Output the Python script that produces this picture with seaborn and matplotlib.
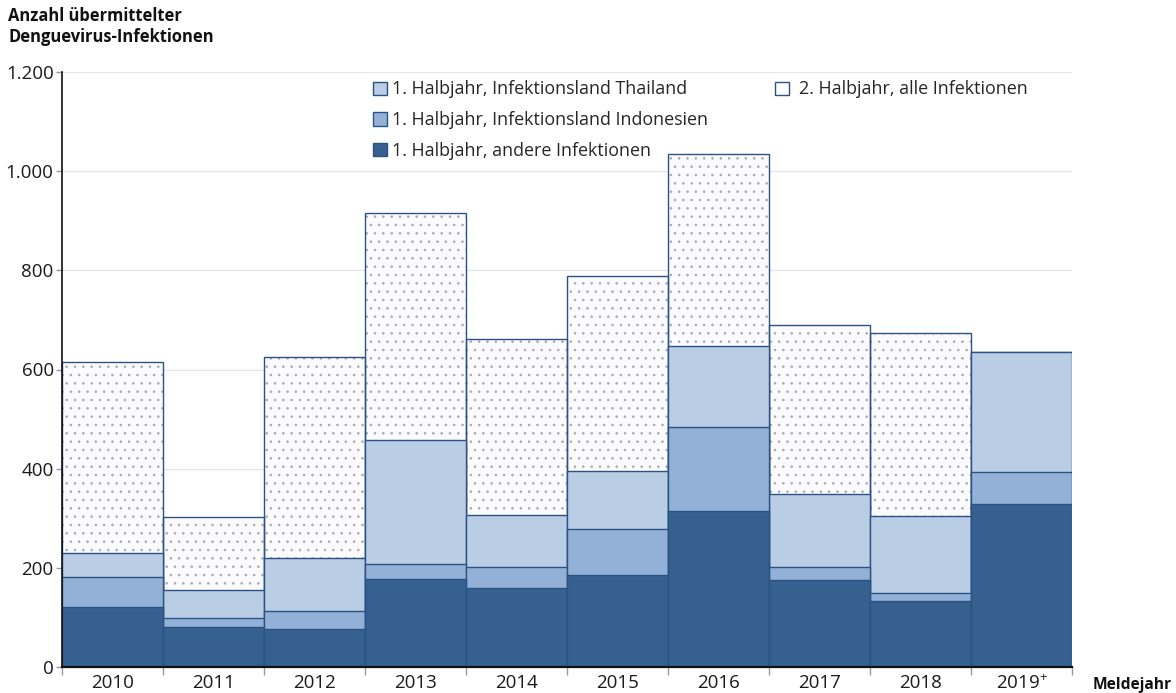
import matplotlib
matplotlib.use("Agg")
import matplotlib.pyplot as plt
import seaborn as sns
import numpy as np
from matplotlib.patches import Patch
from matplotlib.ticker import FixedLocator

years = ["2010", "2011", "2012", "2013", "2014", "2015", "2016", "2017", "2018", "2019$^{+}$"]
andere = [121, 81, 77, 178, 159, 186, 315, 176, 133, 329]
indonesien = [60, 18, 36, 30, 43, 92, 169, 26, 16, 64]
thailand = [49, 56, 107, 250, 105, 117, 164, 147, 156, 242]
halbjahr2 = [385, 148, 405, 458, 355, 394, 387, 341, 369, 0]
yticks = [0, 200, 400, 600, 800, 1000, 1200]
ytick_labels = ["0", "200", "400", "600", "800", "1.000", "1.200"]

c_dark = "#35608f"
c_mid = "#93b1d6"
c_light = "#b9cde5"
c_edge = "#2a5283"

sns.set_style("white")
plt.rcParams["font.family"] = ["Open Sans", "DejaVu Sans"]
plt.rcParams["mathtext.fontset"] = "custom"
plt.rcParams["mathtext.rm"] = "Open Sans"
plt.rcParams["mathtext.default"] = "regular"
plt.rcParams["hatch.linewidth"] = 0.6

fig = plt.figure(figsize=(11.76, 6.93), dpi=100)
ax = fig.add_axes([62 / 1176, 26 / 693, (1072 - 62) / 1176, (667 - 72) / 693])

a = np.array(andere)
i = np.array(indonesien)
t = np.array(thailand)
h = np.array(halbjahr2)
c1 = a
c2 = a + i
c3 = a + i + t
c4 = a + i + t + h

# second half (dotted), drawn first and then covered by the first-half stacks
sns.barplot(x=years, y=c4, color="#fbfbfd", saturation=1, width=1, edgecolor="#a8a8b6",
            linewidth=0, hatch="..", ax=ax, zorder=2)
sns.barplot(x=years, y=c4, color=c_edge, saturation=1, width=1, edgecolor=c_edge,
            linewidth=1.0, ax=ax, zorder=3, fill=False)
sns.barplot(x=years, y=c3, color=c_light, saturation=1, width=1, edgecolor=c_edge,
            linewidth=1.0, ax=ax, zorder=4)
sns.barplot(x=years, y=c2, color=c_mid, saturation=1, width=1, edgecolor=c_edge,
            linewidth=1.0, ax=ax, zorder=5)
sns.barplot(x=years, y=c1, color=c_dark, saturation=1, width=1, edgecolor=c_edge,
            linewidth=1.0, ax=ax, zorder=6)

for p in ax.patches[len(years):2 * len(years)]:
    p.set_edgecolor(c_edge)
    p.set_facecolor("none")

ax.set_xlim(-0.5, len(years) - 0.5)
ax.set_ylim(0, 1200)
ax.set_yticks(yticks)
ax.set_yticklabels(ytick_labels)
ax.yaxis.grid(True, color="#e6e6e6", linewidth=1)
ax.set_axisbelow(True)

ax.xaxis.set_major_locator(FixedLocator(np.arange(-0.5, len(years), 1.0)))
ax.xaxis.set_minor_locator(FixedLocator(np.arange(len(years))))
ax.set_xticklabels([""] * (len(years) + 1))
ax.set_xticklabels(years, minor=True)
ax.tick_params(axis="x", which="major", length=6, color="#999999", width=1, direction="out", bottom=True)
ax.tick_params(axis="x", which="minor", length=0, labelsize=13.5, pad=5, labelcolor="#1a1a1a")
ax.tick_params(axis="y", length=4, color="#999999", width=1, direction="out", left=True,
               labelsize=13.5, pad=2, labelcolor="#1a1a1a")
ax.set_xlabel("")
ax.set_ylabel("")

for s in ["top", "right"]:
    ax.spines[s].set_visible(False)
ax.spines["left"].set_color("#111111")
ax.spines["bottom"].set_color("#111111")
ax.spines["left"].set_linewidth(1.2)
ax.spines["bottom"].set_linewidth(1.6)
ax.spines["left"].set_zorder(10)
ax.spines["bottom"].set_zorder(10)

fig.text(8 / 1176, 1 - 7 / 693, "Anzahl übermittelter\nDenguevirus-Infektionen", ha="left", va="top",
         fontsize=11.9, fontweight="bold", linespacing=1.2, color="#111111")
fig.text(1172 / 1176, 1 - 685 / 693, "Meldejahr", ha="right", va="center",
         fontsize=11.2, fontweight="bold", color="#111111")

h_thai = Patch(facecolor=c_light, edgecolor=c_edge, linewidth=1)
h_indo = Patch(facecolor=c_mid, edgecolor=c_edge, linewidth=1)
h_and = Patch(facecolor=c_dark, edgecolor=c_edge, linewidth=1)
h_h2 = Patch(facecolor="#fdfdfe", edgecolor=c_edge, linewidth=1)

leg1 = ax.legend([h_thai, h_indo, h_and],
                 ["1. Halbjahr, Infektionsland Thailand",
                  "1. Halbjahr, Infektionsland Indonesien",
                  "1. Halbjahr, andere Infektionen"],
                 loc="upper left", bbox_to_anchor=((368 - 62) / 1010, 1 - 3 / 595),
                 frameon=False, fontsize=12.9, handlelength=0.75, handleheight=0.75,
                 handletextpad=0.3, labelspacing=0.72, borderaxespad=0, borderpad=0.3)
ax.add_artist(leg1)
ax.legend([h_h2], ["2. Halbjahr, alle Infektionen"],
          loc="upper left", bbox_to_anchor=((770 - 62) / 1010, 1 - 3 / 595),
          frameon=False, fontsize=12.9, handlelength=0.75, handleheight=0.75,
          handletextpad=0.55, borderaxespad=0, borderpad=0.3)

fig.savefig("out.png", dpi=100)
